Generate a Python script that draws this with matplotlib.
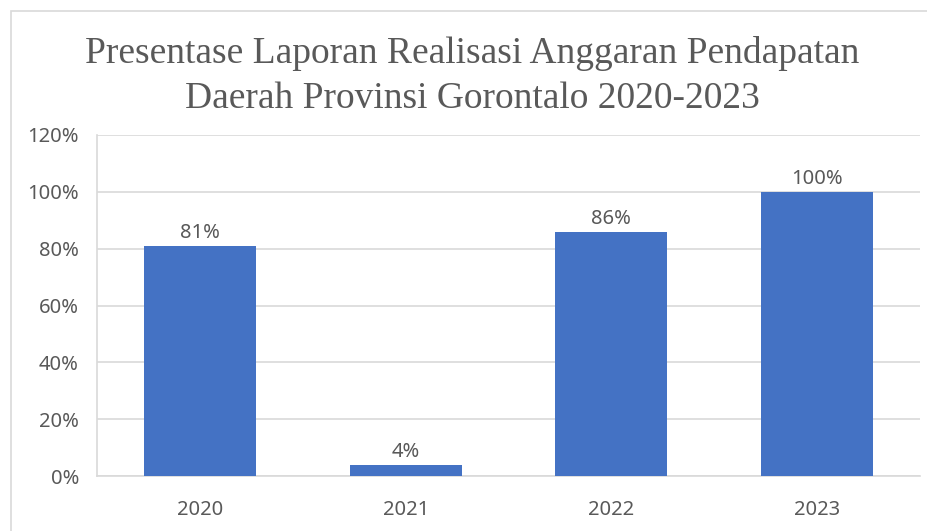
import matplotlib
matplotlib.use("Agg")
import matplotlib.pyplot as plt
from matplotlib.patches import Rectangle
from matplotlib.ticker import FuncFormatter

years = ["2020", "2021", "2022", "2023"]
values = [81, 4, 86, 100]
yticks = [0, 20, 40, 60, 80, 100, 120]
title = "Presentase Laporan Realisasi Anggaran Pendapatan\nDaerah Provinsi Gorontalo 2020-2023"

W, H = 927, 531
fig = plt.figure(figsize=(W / 100, H / 100), dpi=100)
fig.patch.set_facecolor("white")

# outer chart frame
fig.add_artist(Rectangle((11 / W, -0.05), 1.2, (H - 11) / H + 0.05, transform=fig.transFigure,
                         fill=False, edgecolor="#d9d9d9", linewidth=1.2))

ax = fig.add_axes([97 / W, (H - 476) / H, (920 - 97) / W, (476 - 135) / H])
x = list(range(len(years)))
bars = ax.bar(x, values, width=0.545, color="#4472C4", zorder=3)
ax.set_xlim(-0.5, len(years) - 0.5)
ax.set_ylim(0, 120)
ax.set_yticks(yticks)
ax.yaxis.set_major_formatter(FuncFormatter(lambda v, p: f"{int(v)}%"))
ax.set_xticks(x)
ax.set_xticklabels(years)
ax.grid(axis="y", color="#d9d9d9", linewidth=1.2, zorder=0)
for s in ["top", "right"]:
    ax.spines[s].set_visible(False)
ax.spines["left"].set_color("#d9d9d9")
ax.spines["bottom"].set_color("#d9d9d9")
ax.spines["left"].set_linewidth(1.2)
ax.spines["bottom"].set_linewidth(1.2)
ax.tick_params(length=0, labelsize=14.5, colors="#595959")
ax.tick_params(axis="x", pad=17)
ax.tick_params(axis="y", pad=13)
for lab in ax.get_xticklabels() + ax.get_yticklabels():
    lab.set_family("Noto Sans")

for xi, v in zip(x, values):
    ax.text(xi, v + 1.0, f"{v}%", ha="center", va="bottom", fontsize=14.5,
            color="#595959", family="Noto Sans")

fig.text(472 / W, 1 - 76 / H, title, ha="center", va="center", fontsize=27,
         family="Liberation Serif", color="#595959", linespacing=1.38)

fig.savefig("out.png", dpi=100)
